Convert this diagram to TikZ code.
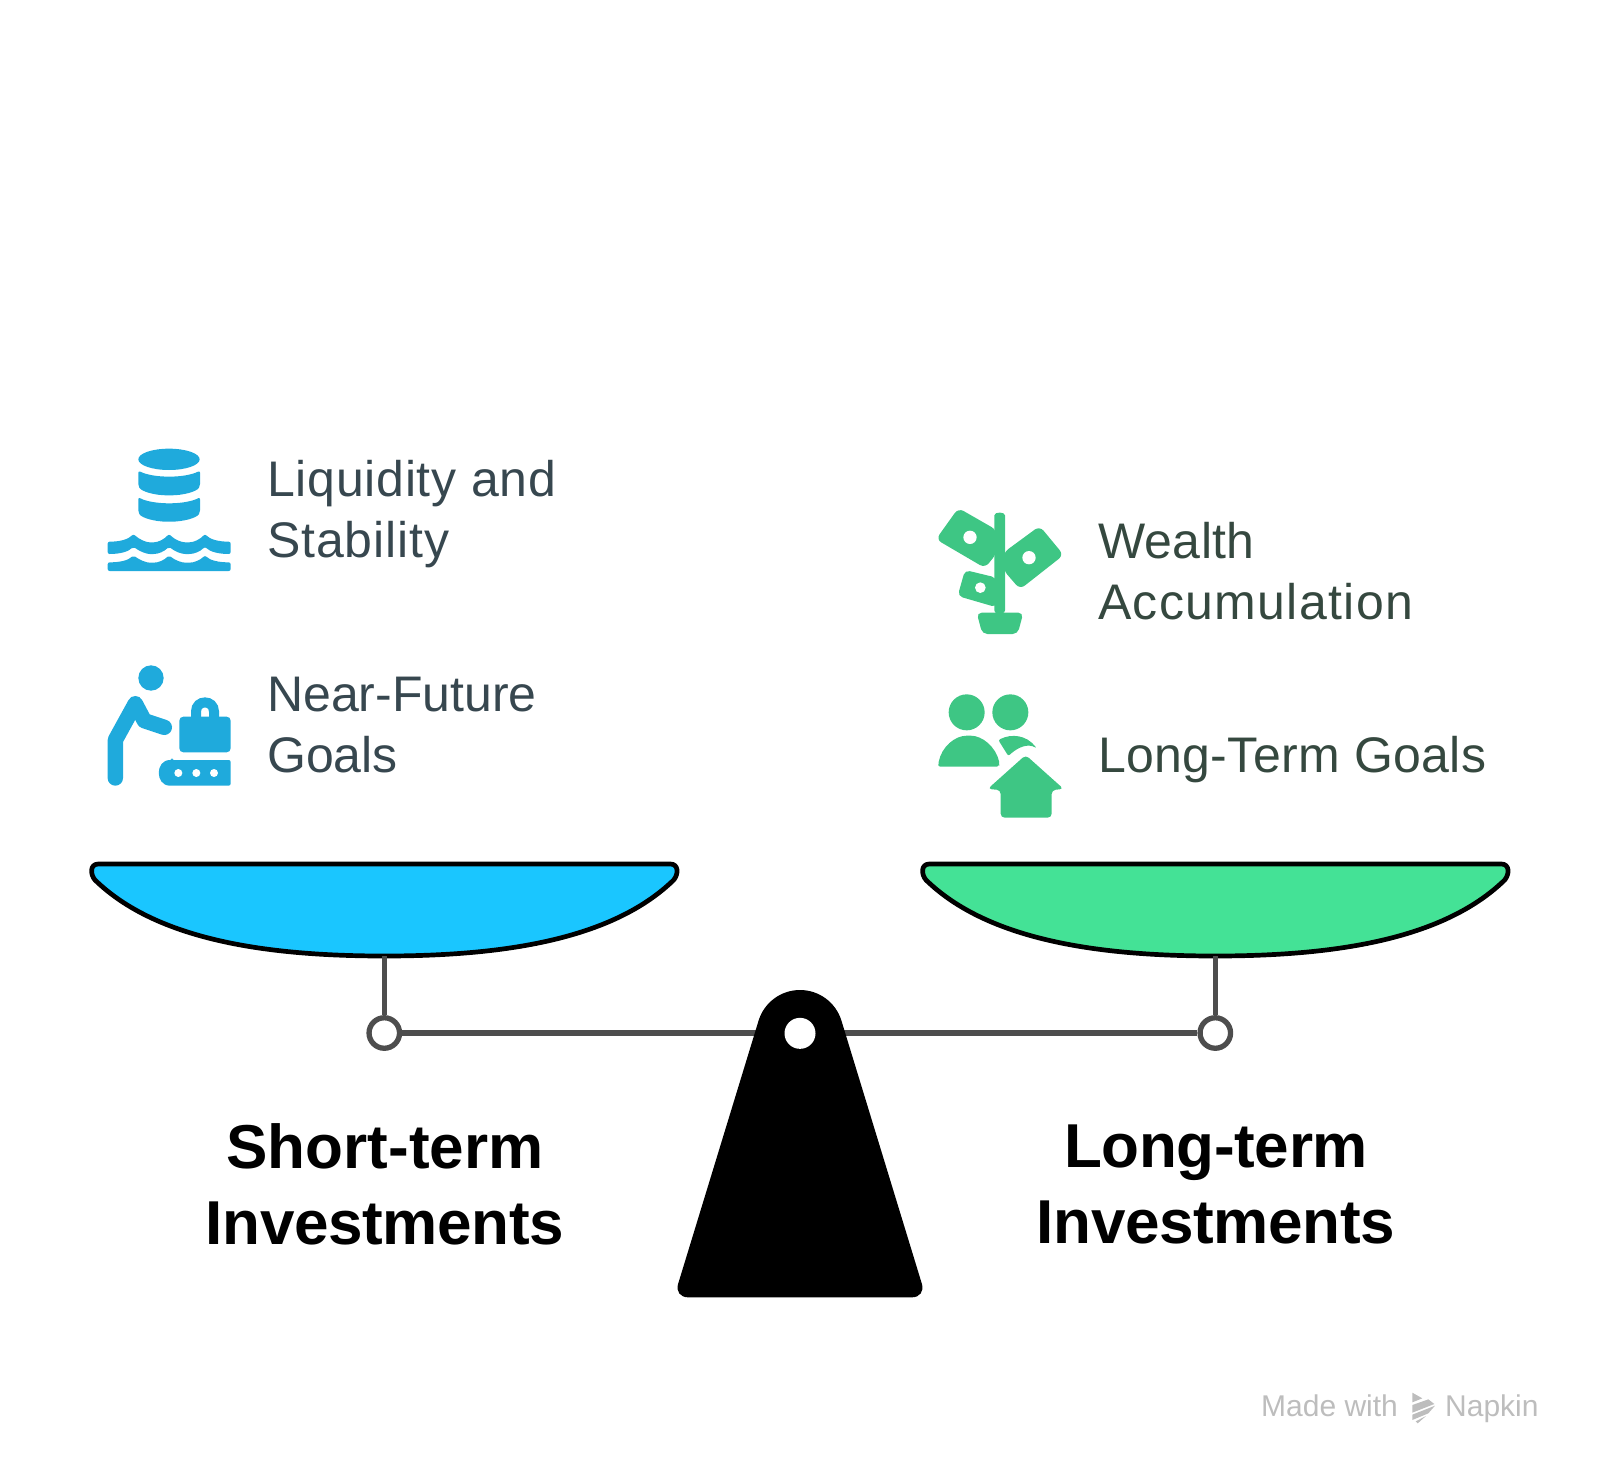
\documentclass[tikz,border=0pt]{standalone}
\usepackage{fontspec}
\setmainfont{Liberation Sans}
\definecolor{iblue}{HTML}{1FAADC}
\definecolor{igreen}{HTML}{3EC684}
\definecolor{panblue}{HTML}{1AC6FF}
\definecolor{pangreen}{HTML}{44E296}
\definecolor{beam}{HTML}{4D4D4D}
\definecolor{txtblue}{HTML}{37474F}
\definecolor{txtgreen}{HTML}{35483F}
\definecolor{wm}{HTML}{BDBDBD}
\newcommand{\lspace}[2]{{\addfontfeature{LetterSpace=#1}#2}}
\tikzset{
  zoomed/.style={shift={(#1)},scale=1/3},
  pivot/.style={circle,draw=beam,fill=white,line width=5.3pt,minimum size=30.5pt,inner sep=0pt},
  rod/.style={draw=beam,line width=5.3pt},
  itemtext/.style={inner sep=0pt,align=left,font=\fontsize{50}{61.5}\selectfont,anchor=west},
  headtext/.style={inner sep=0pt,align=center,font=\fontsize{62}{76}\selectfont\bfseries,anchor=center,text=black},
  wmtext/.style={inner sep=0pt,anchor=base west,text=wm,font=\fontsize{30}{36}\selectfont},
  panshape/.style={draw=black,line width=4.7pt,line join=round,fill=#1}
}
\newcommand{\panpath}{(55,42) -- (1771,42) .. controls (1796,42) and (1796,72) .. (1781,90)
  .. controls (1596,270) and (1266,318) .. (913,318)
  .. controls (560,318) and (230,270) .. (45,90)
  .. controls (30,72) and (30,42) .. (55,42) -- cycle}
\begin{document}
\begin{tikzpicture}[x=1pt,y=-1pt]
\useasboundingbox (0,0) rectangle (1600,1477);
% pans
\begin{scope}[zoomed={80,850}]
  \path[panshape=panblue] \panpath;
\end{scope}
\begin{scope}[zoomed={911,850}]
  \path[panshape=pangreen] \panpath;
\end{scope}
\coordinate (panLb) at (384.3,956);
\coordinate (panRb) at (1215.3,956);
\node[pivot] (pivL) at (384.3,1033) {};
\node[pivot] (pivR) at (1215.3,1033) {};
\draw[rod] (panLb) -- (pivL);
\draw[rod] (panRb) -- (pivR);
\draw[rod] (pivL) -- (pivR);
% fulcrum
\begin{scope}[zoomed={660,970}]
  \fill[black,rounded corners=14pt] (295.6,152.3) -- (42,982) -- (798,982) [sharp corners] -- (544.4,152.3)
    .. controls (527.8,97.5) and (477.3,60) .. (420,60)
    .. controls (362.7,60) and (312.2,97.5) .. (295.6,152.3) -- cycle;
  \coordinate (hole) at (420,190);
\end{scope}
\node[circle,fill=white,minimum size=31pt,inner sep=0pt] (holeN) at (hole) {};
% icon 1 database + waves
\begin{scope}[zoomed={90,430},iblue]
  \fill (237,88) ellipse [x radius=92,y radius=32];
  \fill[rounded corners=2pt] (145,122) .. controls (190,145) and (285,145) .. (330,122) -- (330,168)
    .. controls (320,185) and (280,196) .. (237,196) .. controls (195,196) and (155,185) .. (145,168) -- cycle;
  \fill[rounded corners=2pt] (145,202) .. controls (190,225) and (285,225) .. (330,202) -- (330,247)
    .. controls (320,264) and (280,275) .. (237,275) .. controls (195,275) and (155,264) .. (145,247) -- cycle;
  \fill[rounded corners=2pt] (53,335) .. controls (90,335) and (115,328) .. (130,312)
    .. controls (150,330) and (170,337) .. (185,337) .. controls (205,337) and (222,328) .. (237,312)
    .. controls (255,330) and (275,337) .. (292,337) .. controls (312,337) and (330,328) .. (345,312)
    .. controls (360,328) and (385,335) .. (422,335) -- (422,372)
    .. controls (385,372) and (360,365) .. (345,350)
    .. controls (330,365) and (312,372) .. (292,372) .. controls (275,372) and (255,365) .. (237,350)
    .. controls (222,365) and (205,372) .. (185,372) .. controls (170,372) and (150,365) .. (130,350)
    .. controls (115,365) and (90,372) .. (53,372) -- cycle;
  \fill[rounded corners=2pt] (53,397) .. controls (90,397) and (115,391) .. (130,376)
    .. controls (150,391) and (170,398) .. (185,398) .. controls (205,398) and (222,391) .. (237,376)
    .. controls (255,391) and (275,398) .. (292,398) .. controls (312,398) and (330,391) .. (345,376)
    .. controls (360,391) and (385,397) .. (422,397) -- (422,423) -- (53,423) -- cycle;
\end{scope}
% icon 2 person and bag
\begin{scope}[zoomed={90,650},iblue]
  \fill (183,84) circle [radius=38];
  \draw[line width=15.4pt,line cap=round,line join=round] (76,384) -- (76,270) -- (136,161) -- (163,212) -- (223,232);
  \fill[rounded corners=4pt] (268,200) rectangle (422,307);
  \draw[line width=10pt] (318,205) -- (318,185) .. controls (318,148) and (372,148) .. (372,185) -- (372,205);
  \fill[rounded corners=2pt] (246,330) -- (422,330) -- (422,407) -- (246,407) .. controls (195,407) and (195,330) .. (246,330) -- cycle;
  \fill[white] (265,369) circle [radius=12] (319,369) circle [radius=12] (372,369) circle [radius=12];
\end{scope}
% icon 3 money tree
\begin{scope}[zoomed={925,500},igreen]
  \fill[rounded corners=3pt] (208,340) -- (208,55) .. controls (208,35) and (240,35) .. (240,55) -- (240,340) -- cycle;
  \fill[rounded corners=5pt] (155,338) -- (295,338) -- (278,402) -- (172,402) -- cycle;
  \fill[rounded corners=6pt] (100,24) -- (215,90) -- (215,160) -- (180,204) -- (33,118) -- cycle;
  \fill[rounded corners=6pt] (344,78) -- (416,165) -- (285,268) -- (235,210) -- (235,158) -- cycle;
  \fill[rounded corners=5pt] (120,210) -- (215,233) -- (215,322) -- (98,288) -- cycle;
  \fill[white] (135,112) circle [radius=20] (312,173) circle [radius=20] (166,263) circle [radius=16];
\end{scope}
% icon 4 people and house
\begin{scope}[zoomed={925,685},igreen]
  \fill (125,82) circle [radius=54] (256,82) circle [radius=54];
  \fill[rounded corners=2pt] (40,245) -- (40,236) .. controls (50,185) and (90,152) .. (131,152)
    .. controls (172,152) and (212,185) .. (224,236) -- (222,245) -- cycle;
  \fill[rounded corners=2pt] (220,165) .. controls (260,145) and (305,150) .. (335,190)
    .. controls (310,175) and (280,185) .. (250,213) -- cycle;
  \fill[rounded corners=4pt] (302,210) -- (416,312) -- (380,315) -- (380,398) -- (227,398) -- (227,315) -- (188,312) -- cycle;
\end{scope}
% texts
\node[itemtext,text=txtblue] (t1) at (267,514) {\lspace{1.5}{Liquidity and}\\\lspace{1.7}{Stability}};
\node[itemtext,text=txtblue] (t2) at (267,725) {Near-Future\\Goals};
\node[itemtext,text=txtgreen] (t3) at (1098,571) {\lspace{0.7}{Wealth}\\\lspace{2.7}{Accumulation}};
\node[itemtext,text=txtgreen] (t4) at (1098,760) {\lspace{0.7}{Long-Term Goals}};
\node[headtext] (h1) at (385,1184) {Short-term\\\lspace{-0.6}{Investments}};
\node[headtext] (h2) at (1216,1184) {\lspace{-0.55}{Long-term}\\\lspace{-0.6}{Investments}};
% watermark
\node[wmtext] (w1) at (1261,1416) {Made with};
\node[wmtext] (w2) at (1445,1416) {Napkin};
\begin{scope}[zoomed={1240,1370},wm]
  \fill (517,68) -- (547,85) -- (517,97) -- cycle;
  \fill (517,105) -- (565,88) -- (583,102) -- (517,128) -- cycle;
  \fill (517,134) -- (585,107) -- (565,130) -- (517,150) -- cycle;
  \fill (527,154) -- (558,138) -- (533,160) -- cycle;
\end{scope}
\end{tikzpicture}
\end{document}
